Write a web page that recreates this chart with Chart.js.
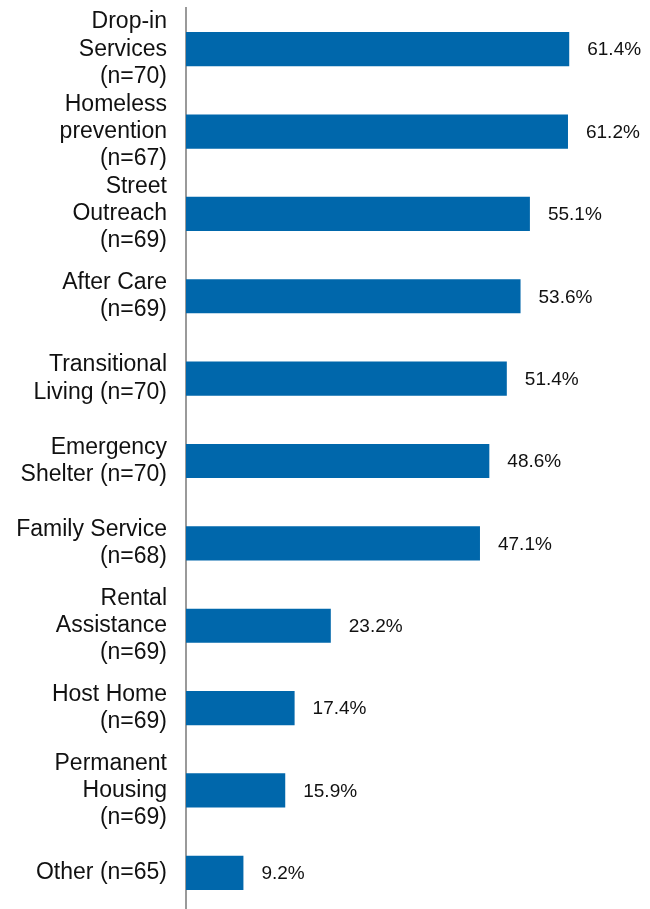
<!DOCTYPE html>
<html>
<head>
<meta charset="utf-8">
<script src="https://cdn.jsdelivr.net/npm/chart.js@4/dist/chart.umd.min.js"></script>
<style>
  html, body { margin: 0; padding: 0; background: #fff; overflow: hidden; }
</style>
</head>
<body>
<canvas id="chartContainer" width="650" height="916"></canvas>
<script>
const categories = [
    ['Drop-in', 'Services', '(n=70)'],
    ['Homeless', 'prevention', '(n=67)'],
    ['Street', 'Outreach', '(n=69)'],
    ['After Care', '(n=69)'],
    ['Transitional', 'Living (n=70)'],
    ['Emergency', 'Shelter (n=70)'],
    ['Family Service', '(n=68)'],
    ['Rental', 'Assistance', '(n=69)'],
    ['Host Home', '(n=69)'],
    ['Permanent', 'Housing', '(n=69)'],
    ['Other (n=65)']
];
const values = [61.4, 61.2, 55.1, 53.6, 51.4, 48.6, 47.1, 23.2, 17.4, 15.9, 9.2];

// draws the percentage next to each bar
const valueLabels = {
    id: 'valueLabels',
    afterDatasetsDraw(chart) {
        const ctx = chart.ctx;
        const meta = chart.getDatasetMeta(0);
        ctx.save();
        ctx.font = '19px "Liberation Sans", Arial, sans-serif';
        ctx.fillStyle = '#111';
        ctx.textAlign = 'left';
        ctx.textBaseline = 'middle';
        meta.data.forEach((bar, i) => {
            ctx.fillText(values[i].toFixed(1) + '%', bar.x + 18, bar.y + 1);
        });
        ctx.restore();
    }
};

function displayChart() {
    const chartContainer = document.getElementById('chartContainer');

    new Chart(chartContainer, {
        type: 'bar',
        data: {
            labels: categories,
            datasets: [{
                data: values,
                backgroundColor: '#0067AB',
                categoryPercentage: 1,
                barPercentage: 0.415
            }]
        },
        options: {
            indexAxis: 'y',
            responsive: false,
            animation: false,
            layout: { padding: { top: 8, bottom: 2, right: 4, left: 0 } },
            plugins: {
                legend: { display: false },
                tooltip: { enabled: false }
            },
            scales: {
                x: {
                    display: false,
                    min: 0,
                    max: 73.7
                },
                y: {
                    afterFit(scale) {
                        scale.width = 186;
                        scale.paddingTop = 0;
                        scale.paddingBottom = 0;
                    },
                    grid: { display: false, drawTicks: false },
                    border: { display: true, color: '#9a9a9a', width: 2 },
                    ticks: {
                        autoSkip: false,
                        padding: 19,
                        color: '#111',
                        font: { family: '"Liberation Sans", Arial, sans-serif', size: 23, lineHeight: 1.18 }
                    }
                }
            }
        },
        plugins: [valueLabels]
    });
}

window.onload = displayChart;
</script>
</body>
</html>
